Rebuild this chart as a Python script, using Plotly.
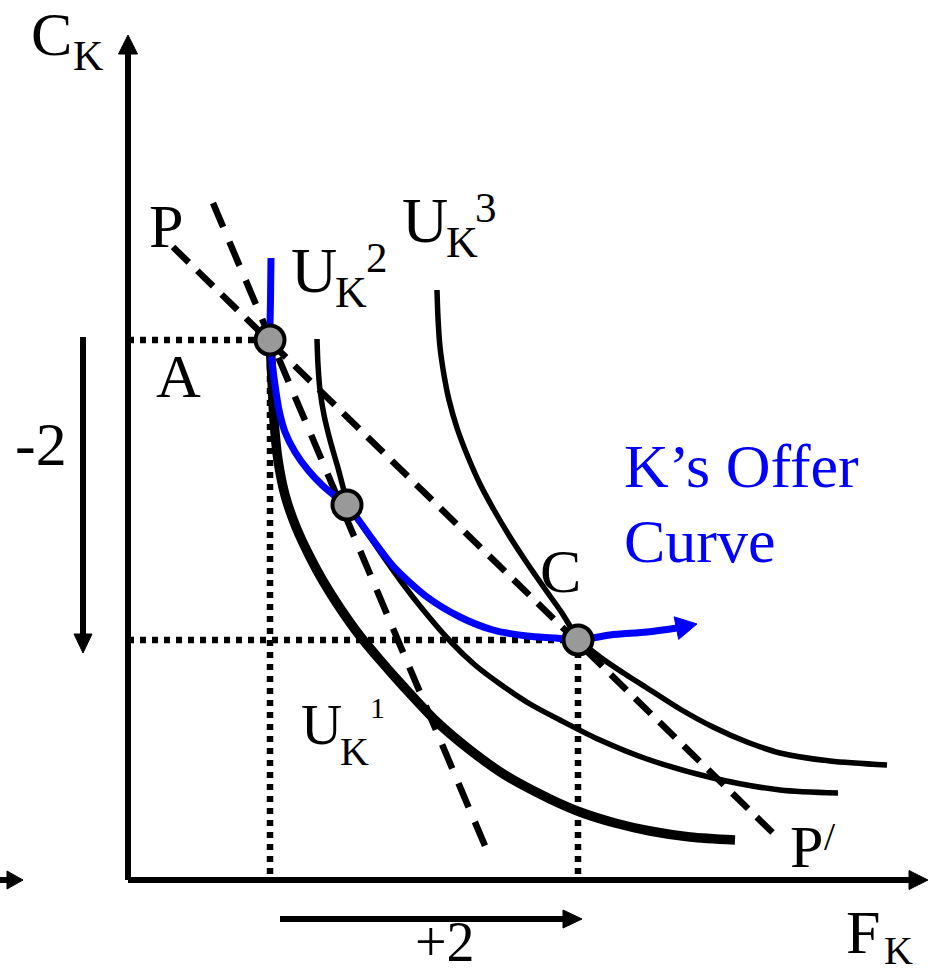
import numpy as np
import plotly.graph_objects as go

FONT = "Liberation Serif"
BLUE = "#0000FF"
GREY = "#999999"

# Indifference curves of country K, as (F_K, C_K) pairs
u1_f = [14.2, 14.4, 14.6, 15.0, 15.7, 16.8, 18.2, 19.5, 21.2, 23.2, 25.2, 27.5, 30.9, 34.2, 37.7, 42.2, 45.2, 48.7, 52.2, 56.2, 60.7]
u1_c = [54.0, 50.0, 46.0, 42.0, 38.5, 35.3, 32.3, 29.9, 27.2, 24.4, 22.0, 19.4, 15.8, 13.0, 10.5, 8.1, 6.8, 5.7, 4.9, 4.3, 4.0]

u2_f = [18.9, 19.0, 19.2, 19.6, 20.2, 21.0, 21.9, 22.8, 24.2, 25.7, 27.2, 29.2, 32.2, 34.7, 37.2, 40.2, 43.2, 47.2, 51.9, 58.5, 65.2, 71.0]
u2_c = [54.1, 51.5, 49.0, 46.5, 44.0, 41.2, 38.0, 36.4, 34.3, 32.1, 30.0, 27.4, 23.9, 21.5, 19.6, 17.6, 16.0, 14.0, 12.1, 10.2, 9.0, 8.7]

u3_f = [30.9, 31.0, 31.2, 31.6, 32.1, 32.9, 34.0, 35.2, 36.6, 38.2, 39.9, 41.7, 43.4, 45.0, 47.2, 49.7, 51.9, 55.2, 58.5, 61.9, 65.2, 70.2, 75.9]
u3_c = [59.0, 56.2, 53.3, 50.5, 48.0, 45.2, 42.3, 39.6, 37.0, 34.3, 31.7, 29.1, 26.7, 24.2, 22.3, 20.6, 19.2, 17.1, 15.3, 13.8, 12.7, 11.9, 11.5]

# K's offer curve
offer_f = [14.3, 14.25, 14.2, 14.4, 14.7, 15.1, 15.7, 16.7, 18.0, 19.4, 20.7, 21.9, 23.2, 24.5, 26.5, 29.9, 33.2, 36.5, 39.9, 42.7, 45.0, 48.2, 51.9, 54.9]
offer_c = [62.2, 58.0, 54.0, 51.8, 49.5, 47.0, 44.8, 42.8, 41.0, 39.5, 38.4, 37.5, 35.8, 34.0, 31.4, 28.3, 26.3, 25.0, 24.4, 24.2, 24.0, 24.5, 24.8, 25.2]
offer_tip = (56.9, 25.6)

# Budget lines: P-P' and the steeper initial price line
pp_f = [4.5, 64.7]
pp_c = [63.3, 4.5]
steep_f = [8.5, 36.0]
steep_c = [67.7, 2.7]

# Equilibrium points A, B, C
pts_f = [14.2, 21.9, 45.0]
pts_c = [54.0, 37.5, 24.0]

# Axis ends and the trade arrows (-2 in C_K, +2 in F_K)
x_axis_end = 80.0
y_axis_end = 84.5
minus2_x, minus2_from, minus2_to = -4.5, 54.3, 22.7
plus2_y, plus2_from, plus2_to = -3.9, 15.2, 45.4
stub_y, stub_from, stub_to = 0.0, -12.8, -10.5

fig = go.Figure()


def line(xs, ys, width, color="black", dash=None, spline=False):
    fig.add_trace(go.Scatter(
        x=xs, y=ys, mode="lines", hoverinfo="skip",
        line=dict(color=color, width=width, dash=dash,
                  shape="spline" if spline else "linear", smoothing=0.8),
    ))


def head(tail, tip, length, half, color="black"):
    t = np.array(tail, float)
    p = np.array(tip, float)
    d = (p - t) / np.linalg.norm(p - t)
    n = np.array([-d[1], d[0]])
    b = p - d * length
    poly = np.array([b + n * half, p, b - n * half, b + n * half])
    fig.add_trace(go.Scatter(
        x=poly[:, 0], y=poly[:, 1], mode="lines", fill="toself",
        fillcolor=color, line=dict(color=color, width=1), hoverinfo="skip",
    ))


def arrow(x0, y0, x1, y1, width, length, half, color="black"):
    d = np.array([x1 - x0, y1 - y0], float)
    d /= np.linalg.norm(d)
    bx, by = x1 - d[0] * (length - 0.2), y1 - d[1] * (length - 0.2)
    line([x0, bx], [y0, by], width, color)
    head((x0, y0), (x1, y1), length, half, color)


# Dotted guides from A and C to the axes
dot = "6px,6px"
line([0, pts_f[0]], [pts_c[0], pts_c[0]], 6.5, dash=dot)
line([pts_f[0], pts_f[0]], [pts_c[0], 0], 6.5, dash=dot)
line([0, pts_f[2]], [pts_c[2], pts_c[2]], 6.5, dash=dot)
line([pts_f[2], pts_f[2]], [pts_c[2], 0], 6.5, dash=dot)

# Axes
arrow(0, 0, 0, y_axis_end, 6, 1.9, 0.95)
arrow(0, 0, x_axis_end, 0, 6, 1.9, 0.95)
line([0, 0], [0, 2], 6)
arrow(stub_from, stub_y, stub_to, stub_y, 6, 1.6, 0.9)

# Indifference curves
line(u1_f, u1_c, 9.5, spline=True)
line(u2_f, u2_c, 5.5, spline=True)
line(u3_f, u3_c, 5.5, spline=True)

# Price lines
line(pp_f, pp_c, 6.5, dash="22px,12px")
line(steep_f, steep_c, 6.5, dash="26px,16px")

# Offer curve with arrowhead
line(offer_f, offer_c, 7, color=BLUE, spline=True)
head((offer_f[-1], offer_c[-1]), offer_tip, 2.1, 1.15, color=BLUE)

# Trade arrows
arrow(minus2_x, minus2_from, minus2_x, minus2_to, 6, 1.9, 0.9)
arrow(plus2_from, plus2_y, plus2_to, plus2_y, 6, 1.9, 0.9)

# Points
fig.add_trace(go.Scatter(
    x=pts_f, y=pts_c, mode="markers", hoverinfo="skip",
    marker=dict(size=29, color=GREY, line=dict(color="black", width=4)),
))


def label(x, y, text, size, color="black", xanchor="center"):
    fig.add_annotation(
        x=x, y=y, text=text, showarrow=False, xanchor=xanchor, yanchor="middle",
        font=dict(family=FONT, size=size, color=color),
    )


# Axis titles
label(-7.7, 84.65, "C", 62)
label(-4.05, 82.4, "K", 42)
label(73.5, -5.2, "F", 62)
label(77.0, -7.0, "K", 40)

# Line and point names
label(3.8, 65.4, "P", 62)
label(67.8, 3.3, "P", 60)
label(70.2, 4.4, "/", 40)
label(5.0, 50.4, "A", 62)
label(43.2, 30.9, "C", 62)

# Utility levels
label(18.6, 61.0, "U", 64)
label(22.3, 58.8, "K", 44)
label(24.9, 62.3, "2", 43)
label(29.7, 66.0, "U", 64)
label(33.4, 63.8, "K", 44)
label(35.8, 67.3, "3", 43)
label(19.3, 15.6, "U", 57)
label(22.6, 12.9, "K", 40)
label(24.9, 17.3, "1", 30)

# Trade amounts
label(-8.7, 43.6, "-2", 62)
label(31.7, -6.2, "+2", 56)

# Offer curve name
label(49.4, 41.4, "K\u2019s Offer", 62, color=BLUE, xanchor="left")
label(49.4, 33.9, "Curve", 62, color=BLUE, xanchor="left")

fig.update_layout(
    width=934, height=974,
    margin=dict(l=0, r=0, t=0, b=0),
    paper_bgcolor="white", plot_bgcolor="white",
    showlegend=False,
    xaxis=dict(visible=False, range=[-12.8, 80.6], fixedrange=True),
    yaxis=dict(visible=False, range=[-9.4, 88.0], fixedrange=True),
)

fig.write_html("out.html", config={"displayModeBar": False})
